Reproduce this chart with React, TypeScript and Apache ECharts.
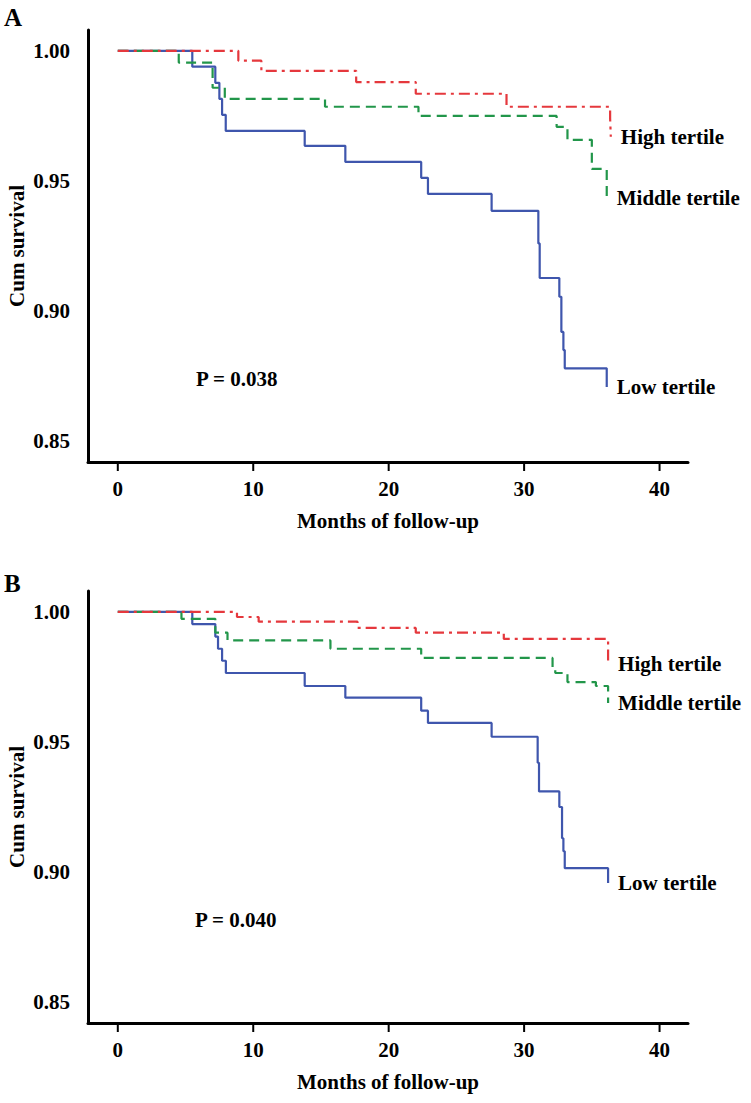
import React, { useEffect, useRef } from 'react';
import * as echarts from 'echarts';

// ---- Data ----
const xTickValues = [0, 10, 20, 30, 40];
const yTickValues = [0.85, 0.9, 0.95, 1.0];
const seriesNames = ['Low tertile', 'Middle tertile', 'High tertile'];
const pValues = ['P = 0.038', 'P = 0.040'];
const panelLetters = ['A', 'B'];

// Panel A
const aLowT = [0, 5.5, 7.2, 7.5, 7.7, 7.97, 13.8, 16.8, 22.4, 22.9, 27.6, 31.05, 31.15, 32.6, 32.75, 32.9, 33.0, 36.1];
const aLowS = [1, 0.9939, 0.9877, 0.9815, 0.9754, 0.9692, 0.9635, 0.9573, 0.9512, 0.945, 0.9385, 0.926, 0.9127, 0.9055, 0.892, 0.885, 0.878, 0.8708];
const aMidT = [0, 4.5, 7.0, 7.9, 15.3, 22.2, 32.4, 33.2, 35.0, 36.1];
const aMidS = [1, 0.9955, 0.9858, 0.9815, 0.9785, 0.975, 0.9708, 0.9658, 0.9546, 0.9435];
const aHighT = [0, 8.9, 10.6, 17.6, 22.0, 28.7, 36.35, 36.4];
const aHighS = [1, 0.9962, 0.9923, 0.988, 0.9835, 0.9785, 0.974, 0.967];

// Panel B
const bLowT = [0, 5.5, 7.2, 7.4, 7.7, 7.98, 13.8, 16.8, 22.4, 22.9, 27.6, 31.0, 31.1, 32.6, 32.8, 32.9, 33.0, 36.2];
const bLowS = [1, 0.9953, 0.9905, 0.9858, 0.9812, 0.9765, 0.9715, 0.967, 0.962, 0.9573, 0.952, 0.942, 0.931, 0.925, 0.913, 0.908, 0.9015, 0.8958];
const bMidT = [0, 4.7, 7.2, 8.1, 15.7, 22.4, 32.1, 32.3, 33.2, 35.3, 36.2];
const bMidS = [1, 0.9973, 0.992, 0.989, 0.9858, 0.9823, 0.9785, 0.9765, 0.973, 0.9715, 0.965];
const bHighT = [0, 8.8, 10.4, 17.7, 22.0, 28.5, 36.2];
const bHighS = [1, 0.998, 0.9962, 0.9938, 0.992, 0.9896, 0.98];

// ---- Layout / style ----
const FONT = "'Liberation Serif', serif";
const txt = { fontFamily: FONT, fontWeight: 'bold' as const, fontSize: 21, color: '#000' };
const COLORS = { low: '#3f56ad', mid: '#22964a', high: '#e5383d' };

const X_MIN = -2.2, X_MAX = 42.1;
const Y_MIN = 0.842, Y_MAX = 1.008;
const GRID_LEFT = 88, GRID_W = 600;
const PANEL_TOPS = [30, 591];
const GRID_H = 432;
const X_TICK_LEN = 9, Y_TICK_LEN = 11;

const xT0 = xTickValues[0], xT1 = xTickValues[xTickValues.length - 1];
const yT0 = yTickValues[0], yT1 = yTickValues[yTickValues.length - 1];
const pxPerX = GRID_W / (X_MAX - X_MIN);
const pxPerY = GRID_H / (Y_MAX - Y_MIN);
const tickLeft = GRID_LEFT + (xT0 - X_MIN) * pxPerX;
const tickW = (xT1 - xT0) * pxPerX;
const tickTopOff = (Y_MAX - yT1) * pxPerY;
const tickH = (yT1 - yT0) * pxPerY;
const xOffset = (yT0 - Y_MIN) * pxPerY;
const yOffset = (xT0 - X_MIN) * pxPerX;

function pairs(t: number[], s: number[]) {
  return t.map((x, i) => [x, s[i]]);
}

function mkSeries(name: string, t: number[], s: number[], color: string, dash: any, idx: number, z: number) {
  return {
    type: 'line',
    name,
    xAxisIndex: idx,
    yAxisIndex: idx,
    step: 'end',
    showSymbol: false,
    symbol: 'none',
    data: pairs(t, s),
    z,
    lineStyle: { color, width: 2.2, type: dash, cap: 'butt' },
    itemStyle: { color },
    endLabel: { show: true, formatter: name, distance: 10, ...txt },
    emphasis: { disabled: true },
  };
}

// tick marks: short line series through the main grid's scales (outside plot area, unclipped)
function tickLine(idx: number, data: number[][]) {
  return {
    type: 'line',
    xAxisIndex: idx,
    yAxisIndex: idx,
    clip: false,
    silent: true,
    showSymbol: false,
    symbol: 'none',
    z: 10,
    data,
    lineStyle: { color: '#000', width: 2, type: 'solid', cap: 'butt' },
    emphasis: { disabled: true },
  };
}
function tickSeriesFor(idx: number) {
  const dy = X_TICK_LEN / pxPerY;
  const dx = Y_TICK_LEN / pxPerX;
  return [
    ...xTickValues.map((v) => tickLine(idx, [[v, Y_MIN], [v, Y_MIN - dy]])),
    ...yTickValues.map((v) => tickLine(idx, [[X_MIN - dx, v], [X_MIN, v]])),
  ];
}

const labelRich = { t: { ...txt } };

const grids: any[] = [];
const xAxes: any[] = [];
const yAxes: any[] = [];
PANEL_TOPS.forEach((top, p) => {
  grids.push({ left: GRID_LEFT, top, width: GRID_W, height: GRID_H, containLabel: false, outerBoundsMode: 'none' });
  grids.push({ left: tickLeft, top: top + tickTopOff, width: tickW, height: tickH, containLabel: false, outerBoundsMode: 'none' });
  const gMain = p * 2, gTick = p * 2 + 1;
  xAxes.push({
    type: 'value', gridIndex: gMain, min: X_MIN, max: X_MAX,
    name: 'Months of follow-up', nameLocation: 'middle', nameGap: 48, nameTextStyle: { ...txt },
    splitLine: { show: false },
    axisLine: { show: true, onZero: false, lineStyle: { color: '#000', width: 3 } },
    axisTick: { show: false }, axisLabel: { show: false },
  });
  xAxes.push({
    type: 'value', gridIndex: gTick, min: xT0, max: xT1, interval: xTickValues[1] - xTickValues[0],
    offset: xOffset,
    splitLine: { show: false },
    axisLine: { show: false, onZero: false },
    axisTick: { show: false },
    axisLabel: {
      show: true, margin: 16, ...txt, hideOverlap: false,
      formatter: (v: number) => `{t|${v}}`, rich: labelRich,
    },
  });
  yAxes.push({
    type: 'value', gridIndex: gMain, min: Y_MIN, max: Y_MAX,
    name: 'Cum survival', nameLocation: 'middle', nameRotate: 90, nameGap: 61, nameTextStyle: { ...txt },
    splitLine: { show: false },
    axisLine: { show: true, onZero: false, lineStyle: { color: '#000', width: 3 } },
    axisTick: { show: false }, axisLabel: { show: false },
  });
  yAxes.push({
    type: 'value', gridIndex: gTick, min: yT0, max: yT1, interval: 0.05,
    offset: yOffset,
    splitLine: { show: false },
    axisLine: { show: false, onZero: false },
    axisTick: { show: false },
    axisLabel: {
      show: true, margin: 18, ...txt, hideOverlap: false,
      formatter: (v: number) => `{t|${v.toFixed(2)}}`, rich: labelRich,
    },
  });
});

const option = {
  animation: false,
  backgroundColor: '#fff',
  textStyle: { fontFamily: FONT, fontWeight: 'bold', fontSize: 21, color: '#000' },
  grid: grids,
  xAxis: xAxes,
  yAxis: yAxes,
  series: [
    mkSeries(seriesNames[0], aLowT, aLowS, COLORS.low, 'solid', 0, 3),
    mkSeries(seriesNames[1], aMidT, aMidS, COLORS.mid, [10, 6], 0, 4),
    mkSeries(seriesNames[2], aHighT, aHighS, COLORS.high, [11, 5, 3, 5], 0, 5),
    mkSeries(seriesNames[0], bLowT, bLowS, COLORS.low, 'solid', 2, 3),
    mkSeries(seriesNames[1], bMidT, bMidS, COLORS.mid, [10, 6], 2, 4),
    mkSeries(seriesNames[2], bHighT, bHighS, COLORS.high, [11, 5, 3, 5], 2, 5),
    ...tickSeriesFor(0),
    ...tickSeriesFor(2),
  ],
  graphic: [
    { type: 'text', left: 4, top: 5, style: { text: panelLetters[0], font: `bold 25px ${FONT}`, fill: '#000' } },
    { type: 'text', left: 4, top: 571, style: { text: panelLetters[1], font: `bold 25px ${FONT}`, fill: '#000' } },
    { type: 'text', left: 196, top: 368, style: { text: pValues[0], font: `bold 21px ${FONT}`, fill: '#000' } },
    { type: 'text', left: 195, top: 909, style: { text: pValues[1], font: `bold 21px ${FONT}`, fill: '#000' } },
  ],
};

export default function App() {
  const ref = useRef<HTMLDivElement>(null);
  useEffect(() => {
    const chart = echarts.init(ref.current!, null, { renderer: 'svg' });
    chart.setOption(option as any);
    return () => chart.dispose();
  }, []);
  return (
    <div
      ref={ref}
      style={{ position: 'absolute', left: 0, top: 0, width: 751, height: 1103, background: '#fff' }}
    />
  );
}
